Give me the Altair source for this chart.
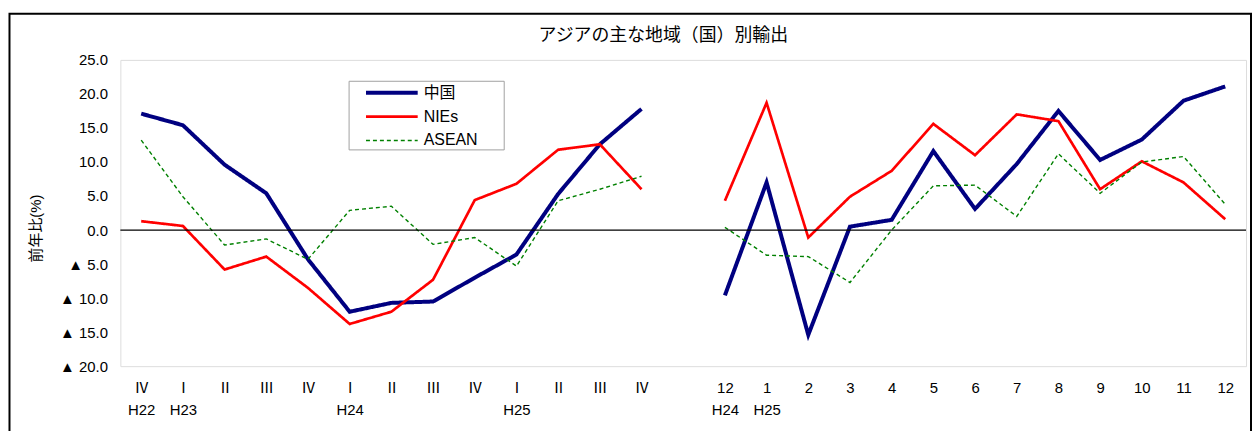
import altair as alt
import pandas as pd

# ---- data ----
series_names = ["中国", "NIEs", "ASEAN"]
title_text = "アジアの主な地域（国）別輸出"
y_ticks = [-20, -15, -10, -5, 0, 5, 10, 15, 20, 25]

q_ids = [f"Q{i}" for i in range(13)]
m_ids = [f"M{i}" for i in range(13)]
gap_id = "G"

q_top = ["Ⅳ", "Ⅰ", "Ⅱ", "Ⅲ", "Ⅳ", "Ⅰ", "Ⅱ", "Ⅲ", "Ⅳ", "Ⅰ", "Ⅱ", "Ⅲ", "Ⅳ"]
q_bot = ["H22", "H23", "", "", "", "H24", "", "", "", "H25", "", "", ""]
m_top = ["12", "1", "2", "3", "4", "5", "6", "7", "8", "9", "10", "11", "12"]
m_bot = ["H24", "H25", "", "", "", "", "", "", "", "", "", "", ""]

china_q = [17.1, 15.4, 9.6, 5.4, -4.3, -12.0, -10.7, -10.5, -7.0, -3.6, 5.3, 12.6, 17.8]
nies_q = [1.3, 0.6, -5.8, -3.9, -8.5, -13.8, -12.0, -7.3, 4.4, 6.8, 11.8, 12.6, 6.0]
asean_q = [13.2, 4.9, -2.2, -1.3, -4.3, 2.9, 3.5, -2.1, -1.1, -5.3, 4.3, 6.0, 7.9]

china_m = [-9.6, 7.0, -15.4, 0.5, 1.5, 11.6, 3.1, 9.7, 17.5, 10.3, 13.3, 19.0, 21.1]
nies_m = [4.3, 18.7, -1.1, 4.9, 8.7, 15.6, 11.0, 17.0, 16.0, 6.0, 10.1, 7.0, 1.6]
asean_m = [0.4, -3.7, -3.9, -7.7, 0.0, 6.5, 6.6, 2.0, 11.2, 5.4, 10.0, 10.8, 3.8]

# ---- table ----
all_ids = q_ids + [gap_id] + m_ids
rows = []
for name, qv, mv in [("中国", china_q, china_m), ("NIEs", nies_q, nies_m), ("ASEAN", asean_q, asean_m)]:
    for i, v in enumerate(qv):
        rows.append({"series": name, "cat": q_ids[i], "seg": name + "_q", "idx": i, "value": v})
    for i, v in enumerate(mv):
        rows.append({"series": name, "cat": m_ids[i], "seg": name + "_m", "idx": 20 + i, "value": v})
df = pd.DataFrame(rows)

label_map = {}
for i in range(13):
    label_map[q_ids[i]] = [q_top[i], q_bot[i]]
    label_map[m_ids[i]] = [m_top[i], m_bot[i]]
label_map[gap_id] = ["", ""]
label_expr = "{" + ",".join(
    "'%s':['%s','%s']" % (k, v[0], v[1]) for k, v in label_map.items()
) + "}[datum.value]"

FONT = "Liberation Sans, Noto Sans CJK JP, sans-serif"
CJK = "Noto Sans CJK JP, sans-serif"
W, H = 1132, 308

legend_cfg = dict(title=None, orient="none", legendX=245, legendY=21,
                  symbolType="stroke", symbolSize=2704, clipHeight=24,
                  rowPadding=0, padding=0, labelFontSize=16, labelFont=FONT,
                  labelColor="black", labelOffset=4)

y_scale = alt.Scale(domain=[-20, 25], nice=False, zero=False)
y_axis = alt.Axis(values=y_ticks, grid=False, ticks=False, domain=False,
                  labelExpr="datum.value < 0 ? '▲ ' + format(-datum.value, '.1f') : format(datum.value, '.1f')",
                  labelFontSize=15, labelFont=FONT, labelColor="black", labelPadding=13,
                  labelOverlap=False, labelBound=False, labelFlush=False,
                  title="前年比(%)", titleFont=FONT, titleFontSize=15, titleFontWeight="normal",
                  titleColor="black", titleX=-85, titleY=169, titleAngle=-90,
                  titleAlign="center", titleBaseline="middle")

lines = alt.Chart(df).mark_line().encode(
    x=alt.X("cat:N", scale=alt.Scale(domain=all_ids),
            axis=alt.Axis(title=None, labelExpr=label_expr, labelAngle=0, ticks=False,
                          domain=False, labelFontSize=15, labelFont=FONT, labelColor="black",
                          labelPadding=14, labelLineHeight=23, labelOverlap=False)),
    y=alt.Y("value:Q", scale=y_scale, axis=y_axis),
    color=alt.Color("series:N", scale=alt.Scale(domain=series_names, range=["#000080", "#FF0000", "#008000"]),
                    legend=alt.Legend(**legend_cfg)),
    strokeDash=alt.StrokeDash("series:N", scale=alt.Scale(domain=series_names, range=[[1, 0], [1, 0], [4, 3]]),
                              legend=alt.Legend(**legend_cfg)),
    strokeWidth=alt.StrokeWidth("series:N", scale=alt.Scale(domain=series_names, range=[4, 1.4, 1.8]),
                                legend=alt.Legend(**legend_cfg)),
    detail="seg:N",
    order="idx:Q",
)

zero = alt.Chart(pd.DataFrame({"value": [0]})).mark_rule(color="black", strokeWidth=1.2).encode(
    y=alt.Y("value:Q", scale=y_scale, axis=y_axis))

one = pd.DataFrame({"t": [title_text]})
legend_box = alt.Chart(one).mark_rect(filled=False, stroke="#A0A0A0", strokeWidth=1).encode(
    x=alt.value(230), x2=alt.value(386), y=alt.value(21.5), y2=alt.value(90.5))
frame = alt.Chart(one).mark_rect(filled=False, stroke="black", strokeWidth=2).encode(
    x=alt.value(-111.5), x2=alt.value(1137), y=alt.value(-46.5), y2=alt.value(470))
title = alt.Chart(one).mark_text(font=CJK, fontSize=18, color="black", align="center",
                                 baseline="middle").encode(
    text="t:N", x=alt.value(546), y=alt.value(-24))

chart = alt.layer(frame, title, lines, zero, legend_box).properties(
    width=W, height=H,
    autosize=alt.AutoSizeParams(type="none"),
    padding={"left": 113, "top": 51, "right": 6, "bottom": 64},
).configure_view(stroke="#A8A8A8", strokeWidth=1.5).configure(background="white")

chart.save("out.html", embed_options={"renderer": "svg", "actions": False})
